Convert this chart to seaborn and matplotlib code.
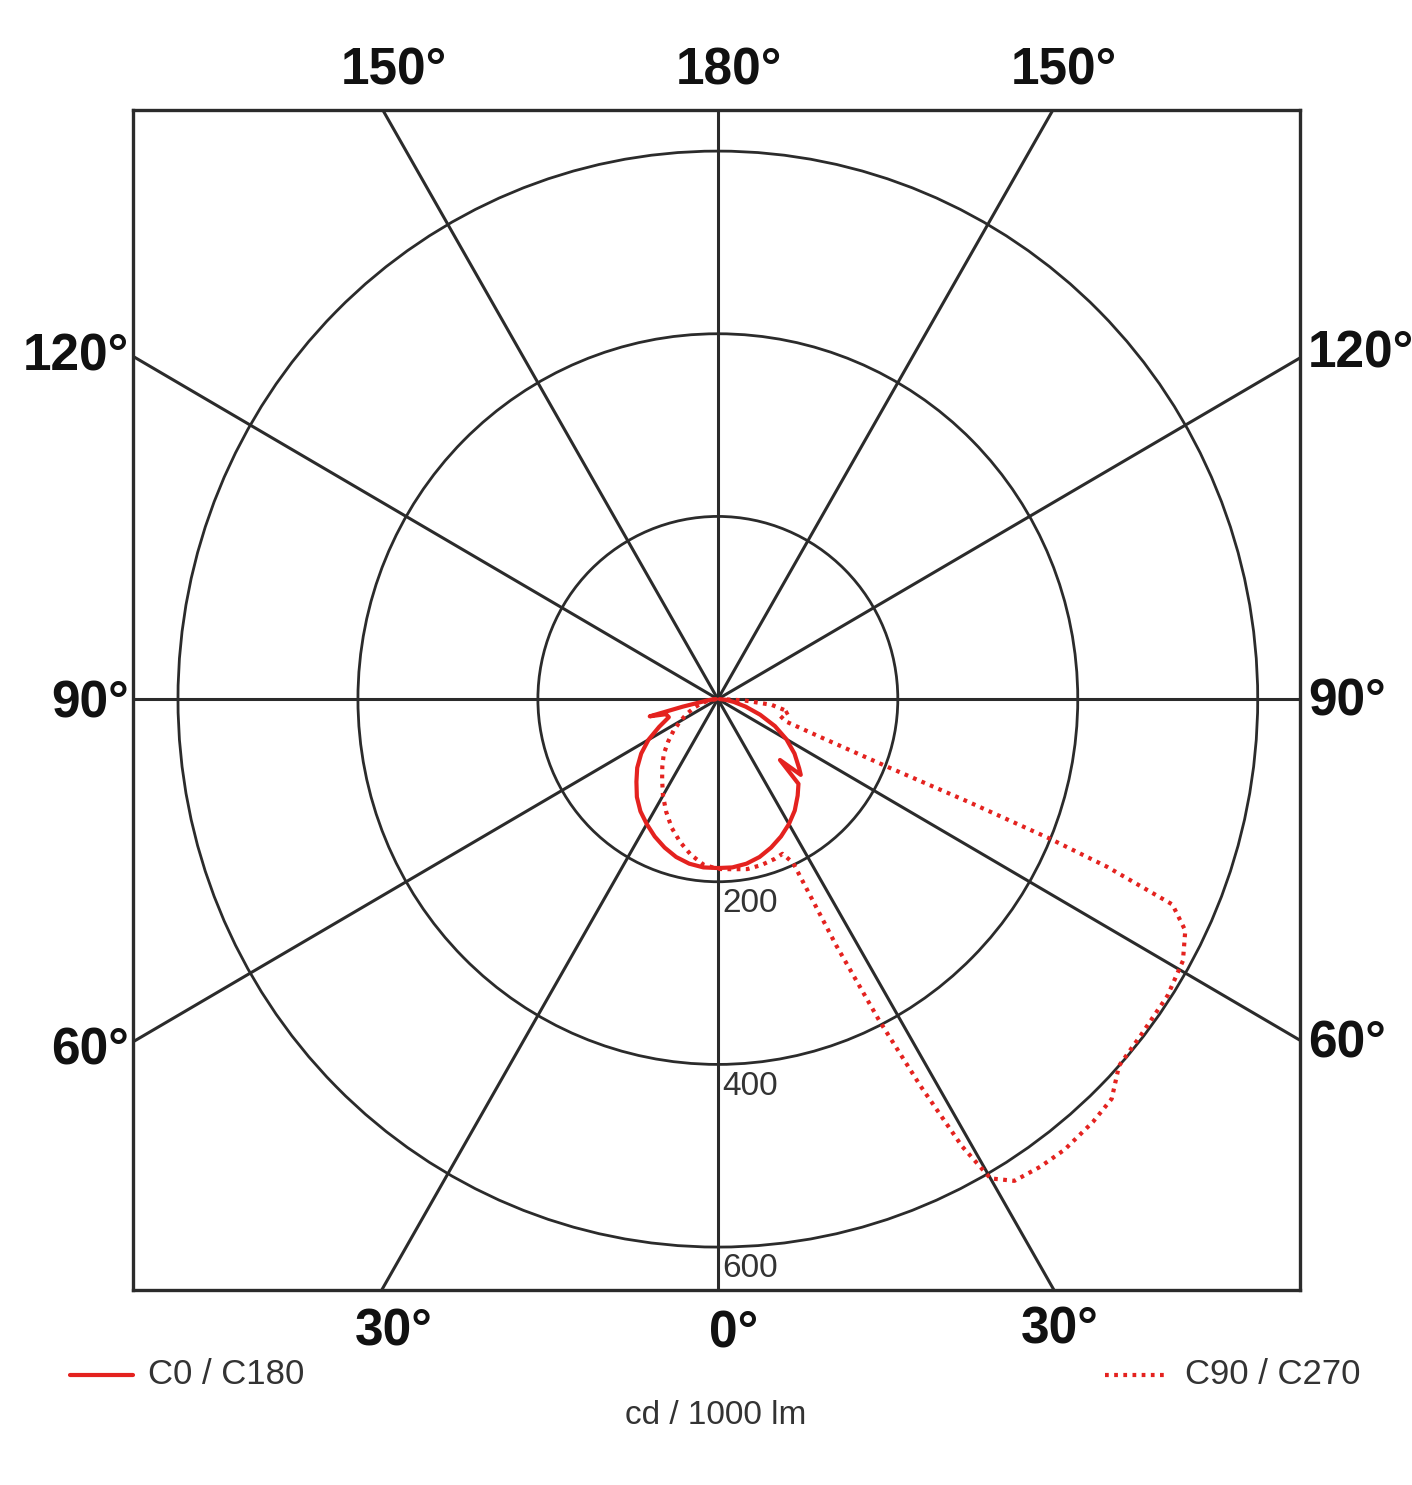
import numpy as np
import pandas as pd
import seaborn as sns
import matplotlib
matplotlib.use("Agg")
import matplotlib.pyplot as plt
from matplotlib.lines import Line2D
from matplotlib.patches import Ellipse

# light distribution, cd / 1000 lm, gamma in degrees from nadir
gamma_c0 = [0, 5, 10, 15, 20, 25, 30, 35, 40, 44, 46, 48, 50, 55, 60, 65, 70, 75, 80, 85, 90]
cd_c0 = [185, 185, 183, 179, 173, 166, 158, 149, 138, 129, 96, 124, 118, 104, 88, 70, 50, 32, 18, 8, 2]

gamma_c180 = [0, 5, 10, 15, 20, 25, 30, 35, 40, 45, 50, 55, 60, 65, 70, 74, 76, 78, 80, 85, 90]
cd_c180 = [185, 185, 183, 179, 173, 166, 158, 150, 140, 128, 117, 104, 89, 72, 58, 60, 78, 40, 20, 8, 2]

gamma_c90 = [0, 5, 10, 15, 20, 23, 25, 26, 27, 28, 29, 30, 32, 35, 38, 42, 45, 48, 52, 57, 61,
             64, 66, 67, 67.5, 68, 68.5, 70, 72, 75, 80, 84, 87, 90]
cd_c90 = [186, 187, 189, 188, 186, 184, 198, 300, 395, 480, 560, 606, 622, 625, 626, 623, 619, 600, 597, 596, 591,
          578, 553, 470, 400, 300, 205, 120, 80, 72, 80, 60, 30, 5]

gamma_c270 = [0, 5, 10, 15, 20, 25, 30, 35, 40, 45, 50, 55, 60, 65, 70, 75, 80, 85, 90]
cd_c270 = [186, 182, 173, 162, 150, 136, 122, 108, 96, 85, 72, 60, 48, 38, 28, 20, 12, 6, 2]

rings = [200, 400, 600]
spokes = [0, 30, 60, 90, 120, 150]

RED = "#e4221f"
GRID = "#2b2b2b"


def to_xy(g_left, i_left, g_right, i_right):
    gl = np.radians(np.array(g_left[::-1], dtype=float))
    il = np.array(i_left[::-1], dtype=float)
    gr = np.radians(np.array(g_right, dtype=float))
    ir = np.array(i_right, dtype=float)
    x = np.concatenate([-il * np.sin(gl), ir * np.sin(gr)])
    y = np.concatenate([-il * np.cos(gl), -ir * np.cos(gr)])
    return pd.DataFrame({"x": x, "y": y})


solid = to_xy(gamma_c180, cd_c180, gamma_c0, cd_c0)
dotted = to_xy(gamma_c270, cd_c270, gamma_c90, cd_c90)

sns.set_theme(style="white")
plt.rcParams["font.family"] = ["Liberation Sans", "DejaVu Sans"]

W, H = 1412, 1485
fig = plt.figure(figsize=(W / 100, H / 100), dpi=100)
ax = fig.add_axes([133 / W, (H - 1290) / H, 1167 / W, 1180 / H])
ax.set_xlim(-650, 647)
ax.set_ylim(-647, 645)

# spokes through the centre
for a in spokes:
    t = np.radians(a)
    ax.plot([-2000 * np.sin(t), 2000 * np.sin(t)], [2000 * np.cos(t), -2000 * np.cos(t)],
            color=GRID, lw=2.2, zorder=1)
for r in rings:
    ax.add_patch(Ellipse((0, 0), 2 * r, 2 * r, fill=False, ec=GRID, lw=2.0, zorder=1))

sns.lineplot(data=solid, x="x", y="y", sort=False, estimator=None, color=RED, lw=3.0, ax=ax, zorder=3)
sns.lineplot(data=dotted, x="x", y="y", sort=False, estimator=None, color=RED, lw=3.0,
             linestyle=(0, (0.9, 1.3)), ax=ax, zorder=3)

for s in ax.spines.values():
    s.set_color(GRID)
    s.set_linewidth(2.4)
ax.set_xticks([])
ax.set_yticks([])
ax.set_xlabel("")
ax.set_ylabel("")

# ring values
for r in rings:
    ax.text(5, -r - 24, str(r), fontsize=24, color="#333333", ha="left", va="center")

# angle labels
lab = dict(fontsize=37, fontweight="bold", color="#111111", va="center", clip_on=False)
tx = 645 * np.tan(np.radians(30))
ax.text(-tx + 12, 688, "150°", ha="center", **lab)
ax.text(12, 688, "180°", ha="center", **lab)
ax.text(tx + 12, 688, "150°", ha="center", **lab)
ax.text(-655, 375, "120°", ha="right", **lab)
ax.text(656, 378, "120°", ha="left", **lab)
ax.text(-655, -5, "90°", ha="right", **lab)
ax.text(656, -3, "90°", ha="left", **lab)
ax.text(-655, -385, "60°", ha="right", **lab)
ax.text(656, -378, "60°", ha="left", **lab)
ax.text(-tx + 12, -693, "30°", ha="center", **lab)
ax.text(18, -695, "0°", ha="center", **lab)
ax.text(tx + 8, -691, "30°", ha="center", **lab)

# legend entries
fig.add_artist(Line2D([70 / W, 133 / W], [1 - 1375 / H] * 2, color=RED, lw=3.0))
fig.text(148 / W, 1 - 1375 / H, "C0 / C180", fontsize=25, color="#333333", va="center", ha="left")
fig.add_artist(Line2D([1105 / W, 1165 / W], [1 - 1375 / H] * 2, color=RED, lw=3.0,
                      linestyle=(0, (0.9, 1.3))))
fig.text(1185 / W, 1 - 1375 / H, "C90 / C270", fontsize=25, color="#333333", va="center", ha="left")
fig.text(716 / W, 1 - 1415 / H, "cd / 1000 lm", fontsize=24, color="#333333", va="center", ha="center")

fig.savefig("out.png", dpi=100, facecolor="white")
